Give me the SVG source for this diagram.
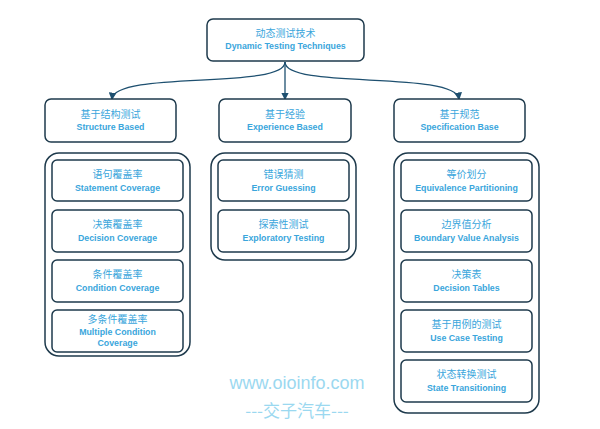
<svg xmlns="http://www.w3.org/2000/svg" width="600" height="429" viewBox="0 0 600 429">
<style>
.b{fill:#fff;stroke:#1e3a4c;stroke-width:1.5}
.t{font-family:"Noto Sans CJK SC",sans-serif;font-size:10px;fill:#3aa6dc;text-anchor:middle}
.e{font-family:"Liberation Sans",sans-serif;font-size:8.8px;font-weight:bold;fill:#3aa6dc;text-anchor:middle}
.c{fill:none;stroke:#1e5070;stroke-width:1.3;marker-end:url(#a)}
</style>
<defs><marker id="a" markerWidth="6" markerHeight="6" refX="5" refY="3" orient="auto"><path d="M0,0L6,3L0,6z" fill="#1e5070"/></marker></defs>
<rect width="600" height="429" fill="#fff"/>
<g id="connectors">
<path class="c" d="M285,62 C285,90 115,70 112,99"/>
<path class="c" d="M285,62 L285,99"/>
<path class="c" d="M285,62 C285,90 455,70 459,99"/>
</g>
<g id="root"><rect class="b" x="207" y="19" width="157" height="42" rx="6"/><text class="t" x="285.5" y="37">动态测试技术</text><text class="e" x="285.5" y="49">Dynamic Testing Techniques</text></g>
<g id="structure"><rect class="b" x="45" y="99" width="131" height="43" rx="6"/><text class="t" x="110.5" y="118">基于结构测试</text><text class="e" x="110.5" y="130">Structure Based</text></g>
<g id="experience"><rect class="b" x="219" y="99" width="132" height="43" rx="6"/><text class="t" x="285" y="118">基于经验</text><text class="e" x="285" y="130">Experience Based</text></g>
<g id="specification"><rect class="b" x="394" y="99" width="131" height="43" rx="6"/><text class="t" x="459.5" y="118">基于规范</text><text class="e" x="459.5" y="130">Specification Base</text></g>
<g id="g1"><rect class="b" x="45" y="153" width="145" height="203" rx="14"/>
<rect class="b" x="52" y="160" width="131" height="41" rx="5"/><text class="t" x="117.5" y="178">语句覆盖率</text><text class="e" x="117.5" y="191">Statement Coverage</text>
<rect class="b" x="52" y="210" width="131" height="42" rx="5"/><text class="t" x="117.5" y="228">决策覆盖率</text><text class="e" x="117.5" y="241">Decision Coverage</text>
<rect class="b" x="52" y="260" width="131" height="42" rx="5"/><text class="t" x="117.5" y="278">条件覆盖率</text><text class="e" x="117.5" y="291">Condition Coverage</text>
<rect class="b" x="52" y="310" width="131" height="42" rx="5"/><text class="t" x="117.5" y="323">多条件覆盖率</text><text class="e" x="117.5" y="335">Multiple Condition</text><text class="e" x="117.5" y="346">Coverage</text>
</g>
<g id="g2"><rect class="b" x="211" y="153" width="145" height="107" rx="14"/>
<rect class="b" x="218" y="160" width="131" height="41" rx="5"/><text class="t" x="283.5" y="178">错误猜测</text><text class="e" x="283.5" y="191">Error Guessing</text>
<rect class="b" x="218" y="210" width="131" height="42" rx="5"/><text class="t" x="283.5" y="228">探索性测试</text><text class="e" x="283.5" y="241">Exploratory Testing</text>
</g>
<g id="g3"><rect class="b" x="394" y="153" width="145" height="260" rx="14"/>
<rect class="b" x="401" y="160" width="131" height="41" rx="5"/><text class="t" x="466.5" y="178">等价划分</text><text class="e" x="466.5" y="191">Equivalence Partitioning</text>
<rect class="b" x="401" y="210" width="131" height="42" rx="5"/><text class="t" x="466.5" y="228">边界值分析</text><text class="e" x="466.5" y="241">Boundary Value Analysis</text>
<rect class="b" x="401" y="260" width="131" height="42" rx="5"/><text class="t" x="466.5" y="278">决策表</text><text class="e" x="466.5" y="291">Decision Tables</text>
<rect class="b" x="401" y="310" width="131" height="42" rx="5"/><text class="t" x="466.5" y="328">基于用例的测试</text><text class="e" x="466.5" y="341">Use Case Testing</text>
<rect class="b" x="401" y="360" width="131" height="42" rx="5"/><text class="t" x="466.5" y="378">状态转换测试</text><text class="e" x="466.5" y="391">State Transitioning</text>
</g>
<text x="297" y="389" font-family="Liberation Sans,sans-serif" font-size="18" fill="#9bd8f0" text-anchor="middle">www.oioinfo.com</text>
<text x="297" y="417" font-family="Noto Sans CJK SC,sans-serif" font-size="17" fill="#9bd8f0" text-anchor="middle">---交子汽车---</text>
</svg>
